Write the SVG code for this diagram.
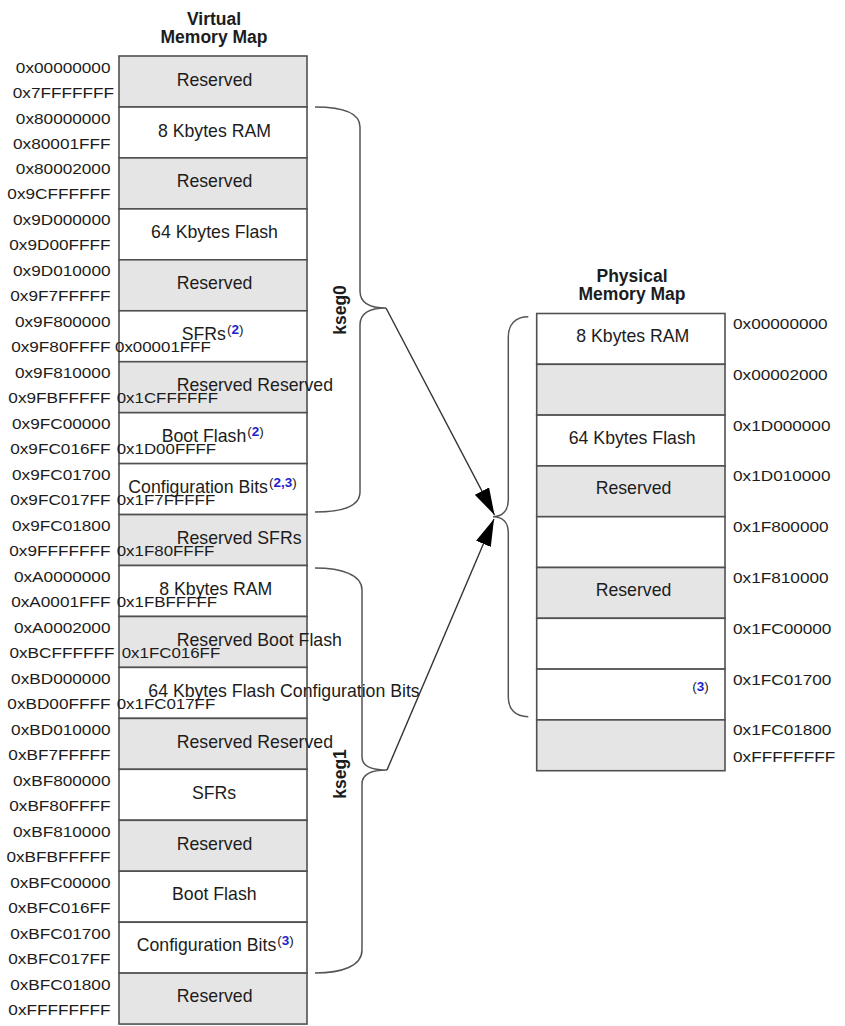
<svg xmlns="http://www.w3.org/2000/svg" width="845" height="1026" viewBox="0 0 845 1026">
<style>
text{font-family:"Liberation Sans",Arial,sans-serif;fill:#1c1c1c}
.ttl{font-size:17.5px;font-weight:bold;text-anchor:middle}
.seg{font-size:17.5px;font-weight:bold;text-anchor:middle}
.lb{font-size:17.7px}
.c{text-anchor:middle}
.ad{font-size:15.5px}
.ae{font-size:15.5px;text-anchor:end}
.sp{font-size:13.5px}
.bl{fill:#1e22cc;font-weight:bold}
.w{fill:#ffffff;stroke:#505050;stroke-width:1.6}
.g{fill:#e5e5e5;stroke:#505050;stroke-width:1.6}
.brace{fill:none;stroke:#555555;stroke-width:1.5}
.arr{fill:none;stroke:#333333;stroke-width:1.4}
</style>
<defs>
<marker id="ah" markerUnits="userSpaceOnUse" markerWidth="28" markerHeight="16" refX="27" refY="8" orient="auto">
<path d="M0,0 L27,8 L0,16 Z" fill="#000"/>
</marker>
</defs>
<rect width="845" height="1026" fill="#fff"/>

<g id="titles">
<text class="ttl" x="214" y="25">Virtual</text>
<text class="ttl" x="214" y="43">Memory Map</text>
<text class="ttl" x="632" y="281.7">Physical</text>
<text class="ttl" x="632" y="300">Memory Map</text>
</g>

<g id="virtual-map">
<g id="v0"><rect class="g" x="119" y="56" width="188" height="50.95"/>
<text class="lb c" x="214.5" y="85.5">Reserved</text>
<text class="ae" transform="translate(110.5 72.5) scale(1.11 1)">0x00000000</text>
<text class="ae" transform="translate(114 97.5) scale(1.11 1)">0x7FFFFFFF</text></g>

<g id="v1"><rect class="w" x="119" y="107" width="188" height="50.95"/>
<text class="lb c" x="214.5" y="136.5">8 Kbytes RAM</text>
<text class="ae" transform="translate(110.5 123.5) scale(1.11 1)">0x80000000</text>
<text class="ae" transform="translate(110.5 148.5) scale(1.11 1)">0x80001FFF</text></g>

<g id="v2"><rect class="g" x="119" y="157.9" width="188" height="50.95"/>
<text class="lb c" x="214.5" y="187.4">Reserved</text>
<text class="ae" transform="translate(110.5 174.4) scale(1.11 1)">0x80002000</text>
<text class="ae" transform="translate(110.5 199.4) scale(1.11 1)">0x9CFFFFFF</text></g>

<g id="v3"><rect class="w" x="119" y="208.9" width="188" height="50.95"/>
<text class="lb c" x="214.5" y="238.4">64 Kbytes Flash</text>
<text class="ae" transform="translate(110.5 225.4) scale(1.11 1)">0x9D000000</text>
<text class="ae" transform="translate(110.5 250.4) scale(1.11 1)">0x9D00FFFF</text></g>

<g id="v4"><rect class="g" x="119" y="259.8" width="188" height="50.95"/>
<text class="lb c" x="214.5" y="289.3">Reserved</text>
<text class="ae" transform="translate(110.5 276.3) scale(1.11 1)">0x9D010000</text>
<text class="ae" transform="translate(110.5 301.3) scale(1.11 1)">0x9F7FFFFF</text></g>

<g id="v5"><rect class="w" x="119" y="310.8" width="188" height="50.95"/>
<text class="lb" x="181.7" y="340.3">SFRs<tspan class="sp" dx="1" dy="-6">(<tspan class="bl">2</tspan>)</tspan></text>
<text class="ae" transform="translate(110.5 327.3) scale(1.11 1)">0x9F800000</text>
<text class="ae" transform="translate(110.5 352.3) scale(1.11 1)">0x9F80FFFF</text>
<text class="ad" transform="translate(115 352.3) scale(1.09 1)">0x00001FFF</text></g>

<g id="v6"><rect class="g" x="119" y="361.7" width="188" height="50.95"/>
<text class="lb" x="176.7" y="391.2">Reserved Reserved</text>
<text class="ae" transform="translate(110.5 378.2) scale(1.11 1)">0x9F810000</text>
<text class="ae" transform="translate(110.5 403.2) scale(1.11 1)">0x9FBFFFFF</text>
<text class="ad" transform="translate(116.7 403.2) scale(1.09 1)">0x1CFFFFFF</text></g>

<g id="v7"><rect class="w" x="119" y="412.7" width="188" height="50.95"/>
<text class="lb" x="161.7" y="442.2">Boot Flash<tspan class="sp" dx="1" dy="-6">(<tspan class="bl">2</tspan>)</tspan></text>
<text class="ae" transform="translate(110.5 429.2) scale(1.11 1)">0x9FC00000</text>
<text class="ae" transform="translate(110.5 454.2) scale(1.11 1)">0x9FC016FF</text>
<text class="ad" transform="translate(116.7 454.2) scale(1.09 1)">0x1D00FFFF</text></g>

<g id="v8"><rect class="w" x="119" y="463.6" width="188" height="50.95"/>
<text class="lb" x="128.3" y="493.1">Configuration Bits<tspan class="sp" dx="1" dy="-6">(<tspan class="bl">2,3</tspan>)</tspan></text>
<text class="ae" transform="translate(110.5 480.1) scale(1.11 1)">0x9FC01700</text>
<text class="ae" transform="translate(110.5 505.1) scale(1.11 1)">0x9FC017FF</text>
<text class="ad" transform="translate(116.7 505.1) scale(1.09 1)">0x1F7FFFFF</text></g>

<g id="v9"><rect class="g" x="119" y="514.6" width="188" height="50.95"/>
<text class="lb" x="176.7" y="544.1">Reserved SFRs</text>
<text class="ae" transform="translate(110.5 531.1) scale(1.11 1)">0x9FC01800</text>
<text class="ae" transform="translate(110.5 556.1) scale(1.11 1)">0x9FFFFFFF</text>
<text class="ad" transform="translate(116.7 556.1) scale(1.09 1)">0x1F80FFFF</text></g>

<g id="v10"><rect class="w" x="119" y="565.5" width="188" height="50.95"/>
<text class="lb" x="159.3" y="595">8 Kbytes RAM</text>
<text class="ae" transform="translate(110.5 582) scale(1.11 1)">0xA0000000</text>
<text class="ae" transform="translate(110.5 607) scale(1.11 1)">0xA0001FFF</text>
<text class="ad" transform="translate(116.7 607) scale(1.09 1)">0x1FBFFFFF</text></g>

<g id="v11"><rect class="g" x="119" y="616.5" width="188" height="50.95"/>
<text class="lb" x="176.7" y="646">Reserved Boot Flash</text>
<text class="ae" transform="translate(110.5 633) scale(1.11 1)">0xA0002000</text>
<text class="ae" transform="translate(114.5 658) scale(1.11 1)">0xBCFFFFFF</text>
<text class="ad" transform="translate(121.7 658) scale(1.09 1)">0x1FC016FF</text></g>

<g id="v12"><rect class="w" x="119" y="667.4" width="188" height="50.95"/>
<text class="lb" x="148.3" y="696.9">64 Kbytes Flash Configuration Bits</text>
<text class="ae" transform="translate(110.5 683.9) scale(1.11 1)">0xBD000000</text>
<text class="ae" transform="translate(110.5 708.9) scale(1.11 1)">0xBD00FFFF</text>
<text class="ad" transform="translate(116.7 708.9) scale(1.09 1)">0x1FC017FF</text></g>

<g id="v13"><rect class="g" x="119" y="718.4" width="188" height="50.95"/>
<text class="lb" x="176.7" y="747.9">Reserved Reserved</text>
<text class="ae" transform="translate(110.5 734.9) scale(1.11 1)">0xBD010000</text>
<text class="ae" transform="translate(110.5 759.9) scale(1.11 1)">0xBF7FFFFF</text></g>

<g id="v14"><rect class="w" x="119" y="769.3" width="188" height="50.95"/>
<text class="lb c" x="214" y="798.5">SFRs</text>
<text class="ae" transform="translate(110.5 785.8) scale(1.11 1)">0xBF800000</text>
<text class="ae" transform="translate(110.5 810.8) scale(1.11 1)">0xBF80FFFF</text></g>

<g id="v15"><rect class="g" x="119" y="820.3" width="188" height="50.95"/>
<text class="lb c" x="214.5" y="849.5">Reserved</text>
<text class="ae" transform="translate(110.5 836.8) scale(1.11 1)">0xBF810000</text>
<text class="ae" transform="translate(110.5 861.8) scale(1.11 1)">0xBFBFFFFF</text></g>

<g id="v16"><rect class="w" x="119" y="871.2" width="188" height="50.95"/>
<text class="lb c" x="214.3" y="900.3">Boot Flash</text>
<text class="ae" transform="translate(110.5 887.7) scale(1.11 1)">0xBFC00000</text>
<text class="ae" transform="translate(110.5 912.7) scale(1.11 1)">0xBFC016FF</text></g>

<g id="v17"><rect class="w" x="119" y="922.2" width="188" height="50.95"/>
<text class="lb" x="136.7" y="951.2">Configuration Bits<tspan class="sp" dx="1" dy="-6">(<tspan class="bl">3</tspan>)</tspan></text>
<text class="ae" transform="translate(110.5 938.7) scale(1.11 1)">0xBFC01700</text>
<text class="ae" transform="translate(110.5 963.7) scale(1.11 1)">0xBFC017FF</text></g>

<g id="v18"><rect class="g" x="119" y="973.1" width="188" height="50.95"/>
<text class="lb c" x="214.7" y="1002">Reserved</text>
<text class="ae" transform="translate(110.5 989.6) scale(1.11 1)">0xBFC01800</text>
<text class="ae" transform="translate(110.5 1015) scale(1.11 1)">0xFFFFFFFF</text></g>
</g>

<g id="physical-map">
<g id="p0"><rect class="w" x="536.7" y="313.5" width="188.3" height="50.8"/>
<text class="lb c" x="632.8" y="342">8 Kbytes RAM</text>
<text class="ad" transform="translate(733 329) scale(1.11 1)">0x00000000</text></g>
<g id="p1"><rect class="g" x="536.7" y="364.3" width="188.3" height="50.8"/>
<text class="ad" transform="translate(733 379.8) scale(1.11 1)">0x00002000</text></g>
<g id="p2"><rect class="w" x="536.7" y="415.1" width="188.3" height="50.8"/>
<text class="lb c" x="632.2" y="443.5">64 Kbytes Flash</text>
<text class="ad" transform="translate(733 430.6) scale(1.11 1)">0x1D000000</text></g>
<g id="p3"><rect class="g" x="536.7" y="465.9" width="188.3" height="50.8"/>
<text class="lb c" x="633.5" y="494">Reserved</text>
<text class="ad" transform="translate(733 481.4) scale(1.11 1)">0x1D010000</text></g>
<g id="p4"><rect class="w" x="536.7" y="516.7" width="188.3" height="50.8"/>
<text class="ad" transform="translate(733 532.2) scale(1.11 1)">0x1F800000</text></g>
<g id="p5"><rect class="g" x="536.7" y="567.5" width="188.3" height="50.8"/>
<text class="lb c" x="633.5" y="595.5">Reserved</text>
<text class="ad" transform="translate(733 583) scale(1.11 1)">0x1F810000</text></g>
<g id="p6"><rect class="w" x="536.7" y="618.3" width="188.3" height="50.8"/>
<text class="ad" transform="translate(733 633.8) scale(1.11 1)">0x1FC00000</text></g>
<g id="p7"><rect class="w" x="536.7" y="669.1" width="188.3" height="50.8"/>
<text class="sp" x="692.3" y="690.5">(<tspan class="bl">3</tspan>)</text>
<text class="ad" transform="translate(733 684.6) scale(1.11 1)">0x1FC01700</text></g>
<g id="p8"><rect class="g" x="536.7" y="719.9" width="188.3" height="50.8"/>
<text class="ad" transform="translate(733 735.4) scale(1.11 1)">0x1FC01800</text>
<text class="ad" transform="translate(733 761.5) scale(1.11 1)">0xFFFFFFFF</text></g>
</g>

<g id="segment-labels">
<text class="seg" transform="translate(346 310) rotate(-90)">kseg0</text>
<text class="seg" transform="translate(346 774) rotate(-90)">kseg1</text>
</g>

<g id="connectors">
<path class="brace" d="M315,107 C342,107 360,113 360,127 L360,291 C360,301 366,308 386,308 C366,308 360,315 360,325 L360,492 C360,506 342,512 315,512"/>
<path class="brace" d="M315,568 C342,568 362,575 362,590 L362,757 C362,764 368,770 387,770 C368,770 362,776 362,784 L362,950 C362,966 342,973 315,973"/>
<path class="brace" d="M528.3,316.7 C515,316.7 508.3,325 508.3,337 L508.3,500 C508.3,510 503,516.7 493,516.7 C503,516.7 508.3,523 508.3,533 L508.3,697 C508.3,709 515,716.7 528.3,716.7"/>
<line class="arr" x1="386" y1="308" x2="494.5" y2="515" marker-end="url(#ah)"/>
<line class="arr" x1="387" y1="770" x2="494" y2="519" marker-end="url(#ah)"/>
</g>
</svg>
